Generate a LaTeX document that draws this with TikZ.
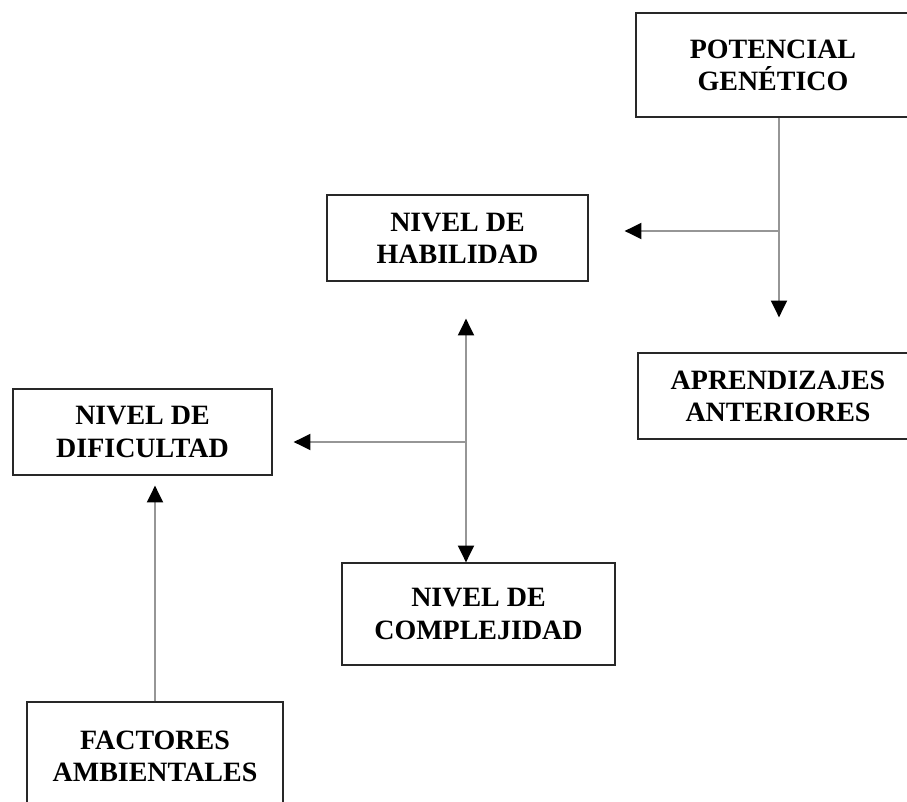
\documentclass[tikz,border=0pt]{standalone}
\usepackage{fontspec}
\setmainfont{Liberation Serif}
\usepackage{tikz}
\usetikzlibrary{arrows.meta,positioning,calc}
\definecolor{BoxLine}{RGB}{40,40,40}
\definecolor{LinkGray}{RGB}{150,150,150}

\begin{document}
\begin{tikzpicture}[
  box/.style={draw=BoxLine,line width=0.9pt,fill=white,align=center,
              font=\fontsize{19.9}{22.8}\selectfont\bfseries,inner sep=0pt},
  link/.style={draw=LinkGray,line width=1.4pt,
               -{Triangle[length=0.42cm,width=0.4cm,color=black]}},
  dlink/.style={draw=LinkGray,line width=1.4pt,
               {Triangle[length=0.42cm,width=0.4cm,color=black]}-{Triangle[length=0.42cm,width=0.4cm,color=black]}},
]
\useasboundingbox (0,0) rectangle (22.675,20.05);
\node[box,minimum width=6.85cm,minimum height=2.6cm] (pot) at (19.325,18.425) {POTENCIAL\\GENÉTICO};
\node[box,minimum width=6.525cm,minimum height=2.15cm] (hab) at (11.4375,14.1) {NIVEL DE\\HABILIDAD};
\node[box,minimum width=7.0cm,minimum height=2.15cm] (apr) at (19.45,10.15) {APRENDIZAJES\\ANTERIORES};
\node[box,minimum width=6.475cm,minimum height=2.15cm] (dif) at (3.5625,9.25) {NIVEL DE\\DIFICULTAD};
\node[box,minimum width=6.825cm,minimum height=2.55cm] (com) at (11.9625,4.7) {NIVEL DE\\COMPLEJIDAD};
\node[box,minimum width=6.4cm,minimum height=2.7cm] (fac) at (3.875,1.15) {FACTORES\\AMBIENTALES};
% junctions
\coordinate (j1) at (19.475,14.275);
\coordinate (j2) at (11.65,9.0);
\draw[link,shorten >=0.875cm] (pot.south -| j1) -- (apr.north -| j1);
\draw[link,shorten >=0.9cm] (j1) -- (j1 -| hab.east);
\draw[dlink,shorten <=0.925cm] (hab.south -| j2) -- (com.north -| j2);
\draw[link,shorten >=0.525cm] (j2) -- (j2 -| dif.east);
\draw[link,shorten >=0.25cm] (fac.north) -- (fac.north |- dif.south);
\end{tikzpicture}
\end{document}
